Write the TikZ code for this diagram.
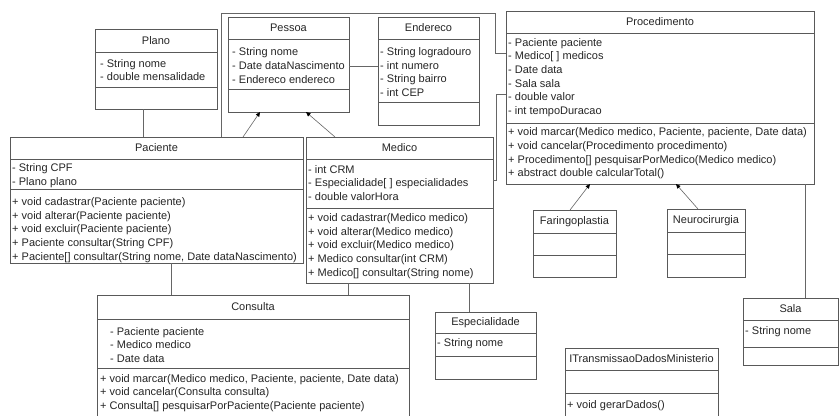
\documentclass[tikz,border=0pt]{standalone}
\usepackage{fontspec}
\setmainfont{Liberation Sans}
\usetikzlibrary{arrows.meta}
\tikzset{
  boxline/.style={draw=black!65, line width=0.6pt},
  classbox/.style={boxline, fill=white, inner sep=0pt, anchor=north west},
  title/.style={font=\fontsize{11}{13}\selectfont, text=black!85, inner sep=0pt},
  members/.style={font=\fontsize{11}{13.7}\selectfont, text=black!85, align=left, inner sep=0pt, anchor=west},
  assoc/.style={draw=black!60, line width=0.6pt},
  gen/.style={draw=black!60, line width=0.6pt, -{Triangle[length=4.5pt,width=4pt,color=black]}},
}
% #1 name, #2 x1, #3 y1, #4 x2, #5 y2, #6 header y, #7 split y, #8 title
\newcommand\umlclass[8]{%
  \node[classbox, minimum width={(#4)-(#2)}, minimum height={(#5)-(#3)}] (#1) at (#2,#3) {};
  \draw[boxline] (#2,#6) -- (#4,#6);
  \draw[boxline] (#2,#7) -- (#4,#7);
  \node[title] (#1-title) at ({((#2)+(#4))/2},{((#3)+(#6))/2}) {#8};
}
\begin{document}
\begin{tikzpicture}[x=1pt,y=-1pt]
\useasboundingbox[fill=white] (0,0) rectangle (840,415);

% classes
\umlclass{plano}{95}{29}{217}{109}{52}{87}{Plano}
\node[members] (plano-attr) at (100,70) {- String nome\\- double mensalidade};

\umlclass{pessoa}{228}{17}{349}{112}{39}{89}{Pessoa}
\node[members] (pessoa-attr) at (232,65.5) {- String nome\\- Date dataNascimento\\- Endereco endereco};

\umlclass{endereco}{378}{17}{479}{125}{39}{102}{Endereco}
\node[members] (endereco-attr) at (380,72) {- String logradouro\\- int numero\\- String bairro\\- int CEP};

\umlclass{proc}{506}{11}{814}{184}{33}{123}{Procedimento}
\node[members] (proc-attr) at (508,77.5) {- Paciente paciente\\- Medico[ ] medicos\\- Date data\\- Sala sala\\- double valor\\- int tempoDuracao};
\node[members] (proc-meth) at (508,153.5) {+ void marcar(Medico medico, Paciente, paciente, Date data)\\+ void cancelar(Procedimento procedimento)\\+ Procedimento[] pesquisarPorMedico(Medico medico)\\+ abstract double calcularTotal()};

\umlclass{paciente}{10}{137}{303}{263}{159}{189}{Paciente}
\node[members] (paciente-attr) at (12,175.5) {- String CPF\\- Plano plano};
\node[members] (paciente-meth) at (12,230) {+ void cadastrar(Paciente paciente)\\+ void alterar(Paciente paciente)\\+ void excluir(Paciente paciente)\\+ Paciente consultar(String CPF)\\+ Paciente[] consultar(String nome, Date dataNascimento)};

\umlclass{medico}{306}{137}{493}{283}{159}{208}{Medico}
\node[members] (medico-attr) at (308,183) {- int CRM\\- Especialidade[ ] especialidades\\- double valorHora};
\node[members] (medico-meth) at (308,246) {+ void cadastrar(Medico medico)\\+ void alterar(Medico medico)\\+ void excluir(Medico medico)\\+ Medico consultar(int CRM)\\+ Medico[] consultar(String nome)};

\umlclass{consulta}{97}{295}{409}{422}{319}{368}{Consulta}
\node[members] (consulta-attr) at (110,345) {- Paciente paciente\\- Medico medico\\- Date data};
\node[members] (consulta-meth) at (100,393) {+ void marcar(Medico medico, Paciente, paciente, Date data)\\+ void cancelar(Consulta consulta)\\+ Consulta[] pesquisarPorPaciente(Paciente paciente)};

\umlclass{espec}{435}{312}{536}{379}{333}{356}{Especialidade}
\node[members] (espec-attr) at (437,344) {- String nome};

\umlclass{itrans}{565}{348}{718}{422}{370}{393}{ITransmissaoDadosMinisterio}
\node[members] (itrans-meth) at (567,406) {+ void gerarDados()};

\umlclass{sala}{743}{298}{838}{365}{320}{347}{Sala}
\node[members] (sala-attr) at (745,332) {- String nome};

\umlclass{faring}{533}{210}{616}{277}{233}{255}{Faringoplastia}
\umlclass{neuro}{667}{209}{745}{277}{232}{254}{Neurocirurgia}

% helper coordinates on box borders
\coordinate (pl-s) at (143,109);
\coordinate (pa-n1) at (143,137);
\coordinate (pe-e) at (349,66);
\coordinate (en-w) at (378,66);
\coordinate (pa-n2) at (243,137);
\coordinate (pe-s1) at (260,112);
\coordinate (me-n1) at (335,137);
\coordinate (pe-s2) at (306,112);
\coordinate (pa-n3) at (221,137);
\coordinate (pr-w1) at (506,53);
\coordinate (me-e) at (493,180);
\coordinate (pr-w2) at (506,94);
\coordinate (pa-s) at (171,263);
\coordinate (co-n1) at (171,295);
\coordinate (me-s1) at (348,283);
\coordinate (co-n2) at (348,295);
\coordinate (me-s2) at (469,283);
\coordinate (es-n) at (469,312);
\coordinate (pr-s1) at (805,184);
\coordinate (sa-n) at (805,298);
\coordinate (fa-n) at (570,210);
\coordinate (pr-s2) at (590,184);
\coordinate (ne-n) at (698,209);
\coordinate (pr-s3) at (676,184);

% connectors
\draw[assoc] (pl-s) -- (pa-n1);
\draw[assoc] (pe-e) -- (en-w);
\draw[gen] (pa-n2) -- (pe-s1);
\draw[gen] (me-n1) -- (pe-s2);
\draw[assoc] (pa-n3) -- (221,13) -- (495,13) -- (495,53) -- (pr-w1);
\draw[assoc] (me-e) -- (496,180) -- (496,94) -- (pr-w2);
\draw[assoc] (pa-s) -- (co-n1);
\draw[assoc] (me-s1) -- (co-n2);
\draw[assoc] (me-s2) -- (es-n);
\draw[assoc] (pr-s1) -- (sa-n);
\draw[gen] (fa-n) -- (pr-s2);
\draw[gen] (ne-n) -- (pr-s3);
\end{tikzpicture}
\end{document}
